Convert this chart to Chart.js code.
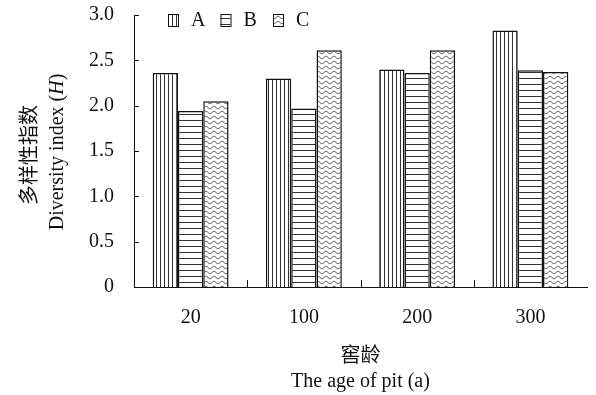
<!DOCTYPE html>
<html>
<head>
<meta charset="utf-8">
<script src="https://cdn.jsdelivr.net/npm/chart.js@4/dist/chart.umd.min.js"></script>
<style>
  html, body { margin: 0; padding: 0; background: #fff; }
  #chart { display: block; }
</style>
</head>
<body>
<canvas id="chart" width="596" height="395"></canvas>
<script>
const categories = ["20", "100", "200", "300"];
const seriesLabels = ["A", "B", "C"];
const seriesA = [2.36, 2.30, 2.40, 2.83];
const seriesB = [1.94, 1.97, 2.36, 2.39];
const seriesC = [2.05, 2.61, 2.61, 2.37];
const yMin = 0;
const yMax = 3;
const yStep = 0.5;

const SERIF = "'Liberation Serif', 'Times New Roman', 'Noto Sans CJK SC', serif";
const CJK = "'Noto Sans CJK SC', sans-serif";
const INK = "#111";

// hatch fills, drawn on small tiles
const makePattern = (kind) => {
    const c = document.createElement("canvas");
    const g = c.getContext("2d");
    if (kind === "vertical") {
        c.width = 4; c.height = 4;
        g.fillStyle = "#fff"; g.fillRect(0, 0, 4, 4);
        g.strokeStyle = "#333"; g.lineWidth = 1;
        g.beginPath(); g.moveTo(0.5, 0); g.lineTo(0.5, 4); g.stroke();
    } else if (kind === "horizontal") {
        c.width = 4; c.height = 6;
        g.fillStyle = "#fff"; g.fillRect(0, 0, 4, 6);
        g.strokeStyle = "#333"; g.lineWidth = 1;
        g.beginPath(); g.moveTo(0, 0.5); g.lineTo(4, 0.5); g.stroke();
    } else {
        c.width = 8; c.height = 5;
        g.fillStyle = "#fff"; g.fillRect(0, 0, 8, 5);
        g.strokeStyle = "#333"; g.lineWidth = 0.9;
        g.beginPath();
        for (let x = -1; x <= 9; x += 0.5) {
            const y = 2.5 + 1.2 * Math.sin((2 * Math.PI * x) / 8);
            if (x === -1) g.moveTo(x, y); else g.lineTo(x, y);
        }
        g.stroke();
    }
    return g.createPattern(c, "repeat");
};

const fills = [makePattern("vertical"), makePattern("horizontal"), makePattern("wave")];
const seriesValues = [seriesA, seriesB, seriesC];

const decorations = {
    id: "decorations",
    afterDraw(chart) {
        const { ctx, chartArea, scales } = chart;
        const x = scales.x;
        const y = scales.y;
        ctx.save();
        ctx.strokeStyle = INK;
        ctx.lineWidth = 1;

        // inward y ticks
        for (let v = yMin + yStep; v <= yMax + 1e-9; v += yStep) {
            const py = Math.round(y.getPixelForValue(v)) + 0.5;
            ctx.beginPath();
            ctx.moveTo(chartArea.left, py);
            ctx.lineTo(chartArea.left + 5, py);
            ctx.stroke();
        }
        // category boundary ticks on x
        for (let i = 0; i < categories.length - 1; i++) {
            const px = Math.round((x.getPixelForValue(i) + x.getPixelForValue(i + 1)) / 2) + 0.5;
            ctx.beginPath();
            ctx.moveTo(px, chartArea.bottom);
            ctx.lineTo(px, chartArea.bottom - 7);
            ctx.stroke();
        }

        // legend inside the plot
        ctx.textBaseline = "middle";
        ctx.textAlign = "left";
        ctx.font = "20px " + SERIF;
        chart.data.datasets.forEach((ds, i) => {
            const bx = chartArea.left + 34 + i * 52.5;
            const by = chartArea.top - 1;
            ctx.fillStyle = ds.backgroundColor;
            ctx.fillRect(bx, by, 10, 12);
            ctx.strokeStyle = INK;
            ctx.strokeRect(bx + 0.5, by + 0.5, 10, 12);
            ctx.fillStyle = INK;
            ctx.fillText(ds.label, bx + 23, by + 7);
        });

        // x axis titles
        const cx = (chartArea.left + chartArea.right) / 2;
        ctx.textAlign = "center";
        ctx.font = "20px " + CJK;
        ctx.fillText("窖龄", cx, 354);
        ctx.font = "20px " + SERIF;
        ctx.fillText("The age of pit (a)", cx, 382);

        // y axis titles, rotated
        const cy = (chartArea.top + chartArea.bottom) / 2;
        ctx.save();
        ctx.translate(28, cy + 4);
        ctx.rotate(-Math.PI / 2);
        ctx.font = "20px " + CJK;
        ctx.fillText("多样性指数", 0, 0);
        ctx.restore();

        ctx.save();
        ctx.translate(58, cy + 1);
        ctx.rotate(-Math.PI / 2);
        const parts = [["Diversity index (", "20px " + SERIF], ["H", "italic 20px " + SERIF], [")", "20px " + SERIF]];
        let total = 0;
        parts.forEach(([t, f]) => { ctx.font = f; total += ctx.measureText(t).width; });
        let tx = -total / 2;
        ctx.textAlign = "left";
        parts.forEach(([t, f]) => {
            ctx.font = f;
            ctx.fillText(t, tx, 0);
            tx += ctx.measureText(t).width;
        });
        ctx.restore();

        ctx.restore();
    },
};

const noOverflow = (scale) => {
    scale.paddingTop = 0;
    scale.paddingBottom = 0;
    scale.paddingLeft = 0;
    scale.paddingRight = 0;
};

new Chart(document.getElementById("chart"), {
    type: "bar",
    data: {
        labels: categories,
        datasets: seriesLabels.map((label, i) => ({
            label,
            data: seriesValues[i],
            backgroundColor: fills[i],
            borderColor: INK,
            borderWidth: 1.5,
            categoryPercentage: 0.67,
            barPercentage: 1.0,
        })),
    },
    options: {
        responsive: false,
        devicePixelRatio: 1,
        animation: false,
        layout: { padding: { left: 0, right: 9, top: 15, bottom: 0 } },
        plugins: {
            legend: { display: false },
            tooltip: { enabled: false },
        },
        scales: {
            x: {
                offset: true,
                grid: { display: false, drawTicks: false },
                border: { display: true, color: INK, width: 1 },
                ticks: {
                    padding: 19,
                    color: INK,
                    font: { family: SERIF, size: 20 },
                },
                afterFit: (scale) => { scale.height = 108; noOverflow(scale); },
            },
            y: {
                min: yMin,
                max: yMax,
                grid: { display: false, drawTicks: false },
                border: { display: true, color: INK, width: 1 },
                ticks: {
                    stepSize: yStep,
                    padding: 20,
                    color: INK,
                    font: { family: SERIF, size: 20 },
                    callback: (v) => (v === 0 ? "0" : v.toFixed(1)),
                },
                afterFit: (scale) => { scale.width = 134; noOverflow(scale); },
            },
        },
    },
    plugins: [decorations],
});
</script>
</body>
</html>
